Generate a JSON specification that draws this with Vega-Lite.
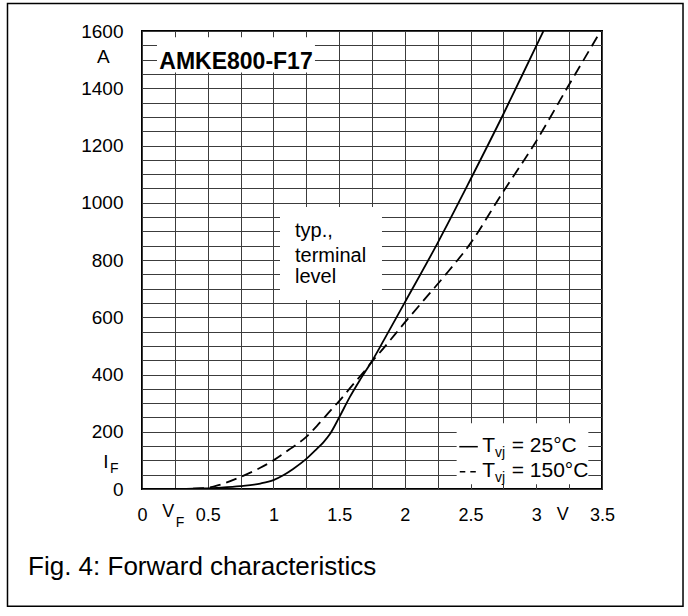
{
  "$schema": "https://vega.github.io/schema/vega-lite/v6.json",
  "width": 460,
  "height": 458,
  "autosize": {"type": "none"},
  "padding": {"left": 142, "top": 31, "right": 86, "bottom": 127},
  "background": "white",
  "config": {
    "font": "Liberation Sans",
    "view": {"stroke": "black", "strokeWidth": 2},
    "axis": {"domain": false, "ticks": false, "gridColor": "#3c3c3c", "gridWidth": 1, "gridOpacity": 1, "labelColor": "black", "labelFont": "Liberation Sans", "labelOverlap": false, "labelFlush": false, "labelBound": false}
  },
  "datasets": {
    "curves": [
      {"series": "25°C", "x": 0, "y": 0},
      {"series": "25°C", "x": 0.25, "y": 0},
      {"series": "25°C", "x": 0.45, "y": 2},
      {"series": "25°C", "x": 0.6, "y": 5},
      {"series": "25°C", "x": 0.75, "y": 10},
      {"series": "25°C", "x": 0.9, "y": 19},
      {"series": "25°C", "x": 1.0, "y": 31},
      {"series": "25°C", "x": 1.075, "y": 48},
      {"series": "25°C", "x": 1.15, "y": 70},
      {"series": "25°C", "x": 1.25, "y": 105},
      {"series": "25°C", "x": 1.33, "y": 140},
      {"series": "25°C", "x": 1.38, "y": 163},
      {"series": "25°C", "x": 1.43, "y": 192},
      {"series": "25°C", "x": 1.5, "y": 250},
      {"series": "25°C", "x": 1.58, "y": 320},
      {"series": "25°C", "x": 1.66, "y": 382},
      {"series": "25°C", "x": 1.75, "y": 447},
      {"series": "25°C", "x": 1.84, "y": 520},
      {"series": "25°C", "x": 2.0, "y": 652},
      {"series": "25°C", "x": 2.25, "y": 860},
      {"series": "25°C", "x": 2.5, "y": 1082},
      {"series": "25°C", "x": 2.75, "y": 1310},
      {"series": "25°C", "x": 3.0, "y": 1548},
      {"series": "25°C", "x": 3.055, "y": 1600},
      {"series": "150°C", "x": 0, "y": 0},
      {"series": "150°C", "x": 0.25, "y": 0},
      {"series": "150°C", "x": 0.48, "y": 3},
      {"series": "150°C", "x": 0.6, "y": 16},
      {"series": "150°C", "x": 0.75, "y": 42},
      {"series": "150°C", "x": 0.9, "y": 74},
      {"series": "150°C", "x": 1.0, "y": 100},
      {"series": "150°C", "x": 1.13, "y": 141},
      {"series": "150°C", "x": 1.25, "y": 182},
      {"series": "150°C", "x": 1.33, "y": 220},
      {"series": "150°C", "x": 1.45, "y": 282},
      {"series": "150°C", "x": 1.5, "y": 307},
      {"series": "150°C", "x": 1.6, "y": 362},
      {"series": "150°C", "x": 1.68, "y": 405},
      {"series": "150°C", "x": 1.75, "y": 445},
      {"series": "150°C", "x": 1.84, "y": 493},
      {"series": "150°C", "x": 2.0, "y": 582},
      {"series": "150°C", "x": 2.19, "y": 684},
      {"series": "150°C", "x": 2.33, "y": 760},
      {"series": "150°C", "x": 2.49, "y": 852},
      {"series": "150°C", "x": 2.74, "y": 1033},
      {"series": "150°C", "x": 2.99, "y": 1208},
      {"series": "150°C", "x": 3.24, "y": 1405},
      {"series": "150°C", "x": 3.49, "y": 1600}
    ],
    "boxes": [
      {"kind": "frame", "x": -1.0234, "x2": 4.1164, "y": -409.6, "y2": 1696.1},
      {"kind": "box", "x": 0.114, "x2": 1.316, "y": 1455, "y2": 1578},
      {"kind": "box", "x": 1.05, "x2": 1.826, "y": 660, "y2": 985},
      {"kind": "box", "x": 2.394, "x2": 3.396, "y": 17, "y2": 230}
    ],
    "samples": [
      {"series": "25°C", "x": 2.414, "x2": 2.555, "y": 147.8},
      {"series": "150°C", "x": 2.418, "x2": 2.555, "y": 60.4}
    ],
    "labels": [
      {"kind": "unity", "text": "A", "x": -0.342, "y": 1488},
      {"kind": "unity", "text": "I", "x": -0.294, "y": 72.3},
      {"kind": "unitx", "text": "V", "x": 0.1545, "y": -96.8},
      {"kind": "unitx", "text": "V", "x": 3.155, "y": -108.3},
      {"kind": "sub", "text": "F", "x": -0.243, "y": 54.5},
      {"kind": "sub", "text": "F", "x": 0.256, "y": -131.7},
      {"kind": "sub", "text": "vj", "x": 2.686, "y": 110.7},
      {"kind": "sub", "text": "vj", "x": 2.686, "y": 23.4},
      {"kind": "legend", "text": "T", "x": 2.589, "y": 128},
      {"kind": "legend", "text": "= 25°C", "x": 2.813, "y": 128},
      {"kind": "legend", "text": "T", "x": 2.589, "y": 43},
      {"kind": "legend", "text": "= 150°C", "x": 2.813, "y": 43},
      {"kind": "note", "text": "typ.,", "x": 1.164, "y": 879},
      {"kind": "note", "text": "terminal", "x": 1.164, "y": 794},
      {"kind": "note", "text": "level", "x": 1.164, "y": 718.6},
      {"kind": "title", "text": "AMKE800-F17", "x": 0.715, "y": 1466},
      {"kind": "caption", "text": "Fig. 4: Forward characteristics", "x": -0.867, "y": -300.4}
    ]
  },
  "encoding": {
    "x": {
      "field": "x", "type": "quantitative",
      "scale": {"domain": [0, 3.5], "nice": false, "zero": false},
      "axis": {
        "title": null,
        "values": [0, 0.25, 0.5, 0.75, 1, 1.25, 1.5, 1.75, 2, 2.25, 2.5, 2.75, 3, 3.25, 3.5],
        "format": ".2~f",
        "labelExpr": "(datum.value * 4) % 2 == 0 ? datum.label : ''",
        "labelFontSize": 18,
        "labelBaseline": "alphabetic",
        "labelPadding": 31,
        "grid": true
      }
    },
    "y": {
      "field": "y", "type": "quantitative",
      "scale": {"domain": [0, 1600], "nice": false, "zero": false},
      "axis": {
        "title": null,
        "values": [0, 50, 100, 150, 200, 250, 300, 350, 400, 450, 500, 550, 600, 650, 700, 750, 800, 850, 900, 950, 1000, 1050, 1100, 1150, 1200, 1250, 1300, 1350, 1400, 1450, 1500, 1550, 1600],
        "format": "d",
        "labelExpr": "datum.value % 200 == 0 ? datum.label : ''",
        "labelFontSize": 19,
        "labelBaseline": "middle",
        "labelPadding": 19,
        "grid": true
      }
    }
  },
  "layer": [
    {
      "data": {"name": "boxes"},
      "transform": [{"filter": "datum.kind == 'box'"}],
      "mark": {"type": "rect", "fill": "white", "stroke": null, "clip": false},
      "encoding": {"x2": {"field": "x2"}, "y2": {"field": "y2"}}
    },
    {
      "data": {"name": "boxes"},
      "transform": [{"filter": "datum.kind == 'frame'"}],
      "mark": {"type": "rect", "fill": null, "fillOpacity": 0, "stroke": "black", "strokeWidth": 1.5, "clip": false},
      "encoding": {"x2": {"field": "x2"}, "y2": {"field": "y2"}}
    },
    {
      "data": {"name": "curves"},
      "transform": [{"filter": "datum.series == '25°C'"}],
      "mark": {"type": "line", "color": "black", "strokeWidth": 1.8, "interpolate": "monotone", "clip": true},
      "encoding": {}
    },
    {
      "data": {"name": "curves"},
      "transform": [{"filter": "datum.series == '150°C'"}],
      "mark": {"type": "line", "color": "black", "strokeWidth": 1.8, "strokeDash": [11, 6], "interpolate": "monotone", "clip": true},
      "encoding": {}
    },
    {
      "data": {"name": "samples"},
      "transform": [{"filter": "datum.series == '25°C'"}],
      "mark": {"type": "rule", "color": "black", "strokeWidth": 1.5},
      "encoding": {"x2": {"field": "x2"}}
    },
    {
      "data": {"name": "samples"},
      "transform": [{"filter": "datum.series == '150°C'"}],
      "mark": {"type": "rule", "color": "black", "strokeWidth": 1.5, "strokeDash": [5.5, 5]},
      "encoding": {"x2": {"field": "x2"}}
    },
    {
      "data": {"name": "labels"},
      "transform": [{"filter": "datum.kind == 'unity'"}],
      "mark": {"type": "text", "align": "left", "baseline": "alphabetic", "fontSize": 19, "color": "black", "clip": false},
      "encoding": {"text": {"field": "text"}}
    },
    {
      "data": {"name": "labels"},
      "transform": [{"filter": "datum.kind == 'unitx'"}],
      "mark": {"type": "text", "align": "left", "baseline": "alphabetic", "fontSize": 18, "color": "black", "clip": false},
      "encoding": {"text": {"field": "text"}}
    },
    {
      "data": {"name": "labels"},
      "transform": [{"filter": "datum.kind == 'sub'"}],
      "mark": {"type": "text", "align": "left", "baseline": "alphabetic", "fontSize": 14, "color": "black", "clip": false},
      "encoding": {"text": {"field": "text"}}
    },
    {
      "data": {"name": "labels"},
      "transform": [{"filter": "datum.kind == 'legend'"}],
      "mark": {"type": "text", "align": "left", "baseline": "alphabetic", "fontSize": 21, "color": "black", "clip": false},
      "encoding": {"text": {"field": "text"}}
    },
    {
      "data": {"name": "labels"},
      "transform": [{"filter": "datum.kind == 'note'"}],
      "mark": {"type": "text", "align": "left", "baseline": "alphabetic", "fontSize": 20, "color": "black", "clip": false},
      "encoding": {"text": {"field": "text"}}
    },
    {
      "data": {"name": "labels"},
      "transform": [{"filter": "datum.kind == 'title'"}],
      "mark": {"type": "text", "align": "center", "baseline": "alphabetic", "fontSize": 23, "fontWeight": "bold", "color": "black", "clip": false},
      "encoding": {"text": {"field": "text"}}
    },
    {
      "data": {"name": "labels"},
      "transform": [{"filter": "datum.kind == 'caption'"}],
      "mark": {"type": "text", "align": "left", "baseline": "alphabetic", "fontSize": 26, "color": "black", "clip": false},
      "encoding": {"text": {"field": "text"}}
    }
  ]
}
